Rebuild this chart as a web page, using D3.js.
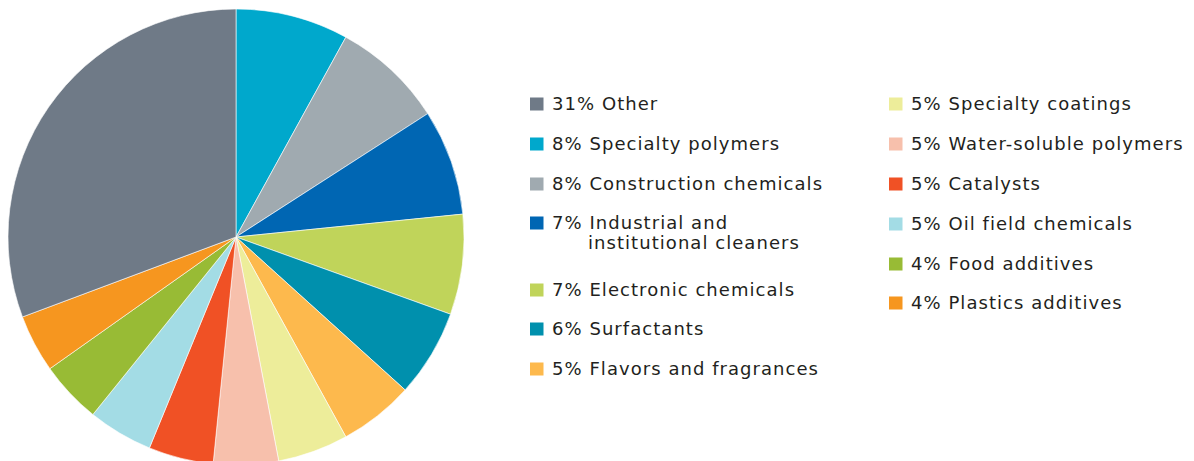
<!DOCTYPE html>
<html>
<head>
<meta charset="utf-8">
<script src="https://cdn.jsdelivr.net/npm/d3@7"></script>
<style>
html,body{margin:0;padding:0;background:#fff;}
svg{display:block;}
text{font-family:"DejaVu Sans",sans-serif;fill:#231f20;letter-spacing:1.05px;}
</style>
</head>
<body>
<svg id="chart" width="1194" height="461"></svg>
<script>
// Segments in clockwise order starting at 12 o'clock
const categories = ["Specialty polymers","Construction chemicals","Industrial and|institutional cleaners","Electronic chemicals","Surfactants","Flavors and fragrances","Specialty coatings","Water-soluble polymers","Catalysts","Oil field chemicals","Food additives","Plastics additives","Other"];
const values = [8.0, 7.9, 7.5, 7.1, 6.2, 5.3, 5.0, 4.6, 4.6, 4.6, 4.4, 4.1, 30.7];
const labelPct = [8, 8, 7, 7, 6, 5, 5, 5, 5, 5, 4, 4, 31];
const colors = ["#00a8cc","#a0aab0","#0066b3","#c0d45a","#0090ad","#fdb94d","#eded9a","#f7c0ac","#f05125","#a3dce5","#98bb35","#f6961f","#6f7a87"];
// Legend order (indices into categories)
const legendCol1 = [12, 0, 1, 2, 3, 4, 5];
const legendCol2 = [6, 7, 8, 9, 10, 11];

const svg = d3.select("#chart");
const cx = 236, cy = 237, r = 228;
const fs = 18;

const pie = d3.pie().sort(null).value(d => d.v);
const arc = d3.arc().innerRadius(0).outerRadius(r);
const data = categories.map((c, i) => ({c, v: values[i], col: colors[i]}));

svg.append("g").attr("transform", `translate(${cx},${cy})`)
  .selectAll("path").data(pie(data)).join("path")
  .attr("d", arc).attr("fill", d => d.data.col)
  .attr("stroke", "#fff").attr("stroke-width", 0.6);

function legend(list, x0, ys) {
  const g = svg.append("g");
  list.forEach((idx, k) => {
    const y = ys[k];
    g.append("rect").attr("x", x0).attr("y", y - 6.5).attr("width", 13.5).attr("height", 13)
      .attr("fill", colors[idx]);
    const lines = categories[idx].split("|");
    const prefix = labelPct[idx] + "% ";
    g.append("text").attr("x", x0 + 22).attr("y", y).attr("dy", "0.35em")
      .attr("font-size", fs).text(prefix + lines[0]);
    if (lines.length > 1) {
      g.append("text").attr("x", x0 + 58).attr("y", y + 20).attr("dy", "0.35em")
        .attr("font-size", fs).text(lines[1]);
    }
  });
}
legend(legendCol1, 530, [104, 144, 184, 223, 290, 329, 369]);
legend(legendCol2, 889, [104, 144, 184, 224, 264, 303]);
</script>
</body>
</html>
